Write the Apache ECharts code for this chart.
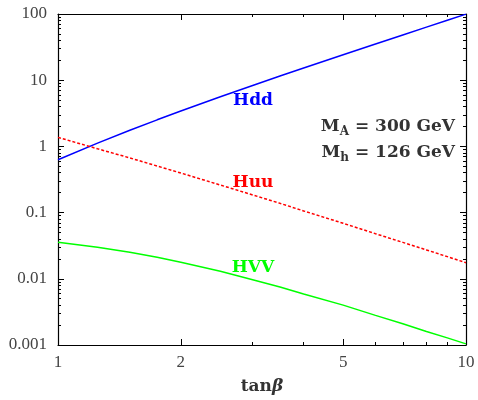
<!DOCTYPE html>
<html>
<head>
<meta charset="utf-8">
<script src="https://cdn.jsdelivr.net/npm/echarts@6/dist/echarts.min.js"></script>
<style>html,body{margin:0;padding:0;background:#fff;}#c{width:478px;height:400px;}</style>
</head>
<body>
<div id="c"></div>
<script>
// tan(beta) sample points
const tanb = [1, 1.25, 1.5, 1.75, 2, 2.5, 3, 3.5, 4, 5, 6, 7, 8, 9, 10];
// couplings
const hdd = [0.63, 1.12, 1.75, 2.52, 3.42, 5.62, 8.33, 11.56, 15.3, 24.3, 35.3, 48.3, 63.3, 80.3, 99.5];
const huu = [1.37, 0.92, 0.67, 0.505, 0.396, 0.261, 0.185, 0.138, 0.106, 0.069, 0.048, 0.0355, 0.0273, 0.0216, 0.0175];
const hvv = [0.0357, 0.0300, 0.0251, 0.0211, 0.0178, 0.0130, 0.0097, 0.0075, 0.0059, 0.0040, 0.0028, 0.0021, 0.0016, 0.00128, 0.00104];
// ticks
const xTicks = [1, 2, 5, 10];
const xMinor = [3, 4, 6, 7, 8, 9];
const yTicks = [0.001, 0.01, 0.1, 1, 10, 100];
const yMinor = [0.002,0.003,0.004,0.005,0.006,0.007,0.008,0.009,
                0.02,0.03,0.04,0.05,0.06,0.07,0.08,0.09,
                0.2,0.3,0.4,0.5,0.6,0.7,0.8,0.9,
                2,3,4,5,6,7,8,9,
                20,30,40,50,60,70,80,90];

const serif = "'Liberation Serif', 'DejaVu Serif', serif";
const boldSerif = "'DejaVu Serif', 'Liberation Serif', serif";
const txt = '#444';
const fmt = v => String(Number(Number(v).toPrecision(6)));

function xAx(pos, major, withLabel) {
  const a = {
    type: 'log', logBase: 10, min: 1, max: 10, position: pos,
    splitLine: {show: false},
    axisLine: {show: major, lineStyle: {color: '#000', width: 1.2}},
    axisTick: {show: true, inside: true, length: major ? 6 : 3,
               customValues: major ? xTicks : xMinor,
               lineStyle: {color: '#000', width: 1}},
    axisLabel: {show: withLabel, customValues: xTicks, formatter: fmt,
                fontFamily: serif, fontSize: 17, color: txt, margin: 9}
  };
  if (withLabel) {
    a.name = '{a|tan}{b|β}';
    a.nameLocation = 'middle';
    a.nameGap = 33;
    a.nameTextStyle = {rich: {
      a: {fontFamily: boldSerif, fontWeight: 'bold', fontSize: 17, color: '#333'},
      b: {fontFamily: boldSerif, fontWeight: 'bold', fontStyle: 'italic', fontSize: 17, color: '#333'}
    }};
  }
  return a;
}
function yAx(pos, major, withLabel) {
  return {
    type: 'log', logBase: 10, min: 0.001, max: 100, position: pos,
    splitLine: {show: false},
    axisLine: {show: major, lineStyle: {color: '#000', width: 1.2}},
    axisTick: {show: true, inside: true, length: major ? 6 : 3,
               customValues: major ? yTicks : yMinor,
               lineStyle: {color: '#000', width: 1}},
    axisLabel: {show: withLabel, customValues: yTicks, formatter: fmt,
                fontFamily: serif, fontSize: 17, color: txt, margin: 11}
  };
}

const pairs = ys => tanb.map((t, i) => [t, ys[i]]);

const richM = {
  m: {fontFamily: boldSerif, fontWeight: 'bold', fontSize: 17, fill: '#333', lineHeight: 22},
  s: {fontFamily: boldSerif, fontWeight: 'bold', fontSize: 12, fill: '#333', lineHeight: 12, verticalAlign: 'bottom', padding: [7, 0, 0, 0]}
};

const chart = echarts.init(document.getElementById('c'), null, {renderer: 'canvas'});
chart.setOption({
  animation: false,
  backgroundColor: '#fff',
  grid: {left: 58, right: 12, top: 14, bottom: 52, containLabel: false},
  xAxis: [xAx('bottom', true, true), xAx('bottom', false, false), xAx('top', true, false), xAx('top', false, false)],
  yAxis: [yAx('left', true, true), yAx('left', false, false), yAx('right', true, false), yAx('right', false, false)],
  series: [
    {type: 'line', name: 'Hdd', data: pairs(hdd), showSymbol: false, smooth: false,
     lineStyle: {color: '#0000ff', width: 1.5}},
    {type: 'line', name: 'Huu', data: pairs(huu), showSymbol: false,
     lineStyle: {color: '#ff0000', width: 1.5, type: [3, 2]}},
    {type: 'line', name: 'HVV', data: pairs(hvv), showSymbol: false,
     lineStyle: {color: '#00ff00', width: 1.5}}
  ],
  graphic: [
    {type: 'text', x: 253, y: 101, style: {text: 'Hdd', fill: '#0000ff', font: "bold 17px " + boldSerif, align: 'center', verticalAlign: 'middle'}},
    {type: 'text', x: 253, y: 183, style: {text: 'Huu', fill: '#ff0000', font: "bold 17px " + boldSerif, align: 'center', verticalAlign: 'middle'}},
    {type: 'text', x: 253, y: 268, style: {text: 'HVV', fill: '#00ff00', font: "bold 17px " + boldSerif, align: 'center', verticalAlign: 'middle'}},
    {type: 'text', x: 455, y: 127, style: {text: '{m|M}{s|A}{m| = 300 GeV}', align: 'right', verticalAlign: 'middle', rich: richM}},
    {type: 'text', x: 455, y: 153, style: {text: '{m|M}{s|h}{m| = 126 GeV}', align: 'right', verticalAlign: 'middle', rich: richM}}
  ]
});
</script>
</body>
</html>
